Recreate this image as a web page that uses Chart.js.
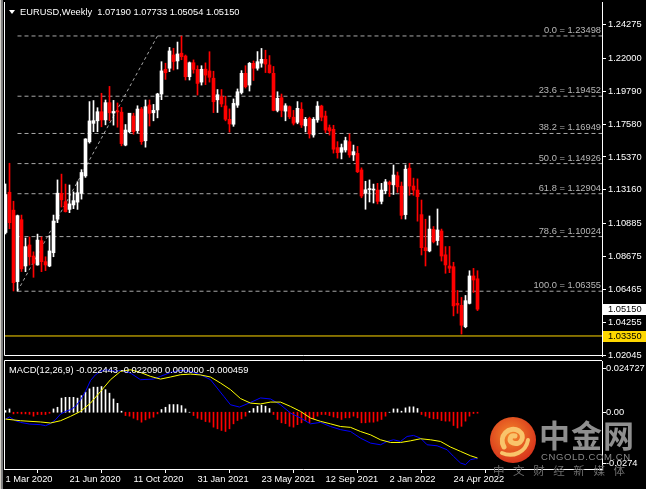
<!DOCTYPE html>
<html>
<head>
<meta charset="utf-8">
<script src="https://cdn.jsdelivr.net/npm/chart.js@4/dist/chart.umd.min.js"></script>
<style>
  html, body { margin: 0; padding: 0; background: #000; }
  body { width: 646px; height: 489px; overflow: hidden; position: relative; font-family: "Liberation Sans", Arial, sans-serif; }
  canvas { position: absolute; left: 0; }
  #main { top: -8px; }
  #macd { top: 352px; }
  .txt { position: absolute; color: #fff; font-size: 9.3px; line-height: 12px; white-space: pre; z-index: 3; }
  #edgeL { position: absolute; left: 0; top: 0; width: 3px; height: 489px; background: linear-gradient(to right, #d4d0c8 0 1px, #808080 1px 3px); z-index: 4; }
  #tri { position: absolute; left: 9px; top: 10px; width: 0; height: 0; border-left: 3px solid transparent; border-right: 3px solid transparent; border-top: 4px solid #fff; z-index: 3; }
  .wm { position: absolute; z-index: 5; white-space: pre; font-family: "Noto Sans CJK SC", sans-serif; }
</style>
</head>
<body>
<div id="edgeL"></div>
<canvas id="main" width="646" height="372"></canvas>
<canvas id="macd" width="646" height="137"></canvas>
<div id="tri"></div>
<div class="txt" style="left:20px; top:6px;">EURUSD,Weekly  1.07190 1.07733 1.05054 1.05150</div>
<div class="txt" style="left:9px; top:364px;">MACD(12,26,9) -0.022443 -0.022090 0.000000 -0.000459</div>

<svg class="wm" style="left:489px; top:416px;" width="48" height="48" viewBox="0 0 48 48">
  <defs>
    <radialGradient id="lg" cx="45%" cy="40%" r="60%">
      <stop offset="0%" stop-color="#f58a2a"/>
      <stop offset="100%" stop-color="#d8341c"/>
    </radialGradient>
  </defs>
  <circle cx="24" cy="24" r="23" fill="url(#lg)"/>
  <path d="M15 31 C9 20 20 9 30 15 C37 20 32 30 24 27 C19 25 21 19 26 20" fill="none" stroke="#f9c46b" stroke-width="5" stroke-linecap="round"/>
  <path d="M13 37 C24 42 37 36 39 24" fill="none" stroke="#f9c46b" stroke-width="4" stroke-linecap="round"/>
</svg>
<div class="wm" style="left:539px; top:411px; font-size:31px; font-weight:bold; color:#8f8f8f; letter-spacing:1px;">中金网</div>
<div class="wm" style="left:541px; top:451px; font-size:9.5px; color:#8a8a8a; font-family:'Liberation Sans',sans-serif; letter-spacing:0.6px;">CNGOLD.COM.CN</div>
<div class="wm" style="left:493px; top:462px; font-size:11.5px; color:#6e6e6e; letter-spacing:3px;">中 文 财 经 新 媒 体</div>

<script>
// weekly bars, index 0 = week of 1 Mar 2020, last = week of 5 Jun 2022
const weekOpen = [
  1.1030, 1.1300, 1.1180, 1.0700, 1.1116, 1.0805, 1.0946, 1.0872, 1.0812, 1.0975,
  1.0834, 1.0805, 1.0894, 1.1119, 1.1293, 1.1237, 1.1185, 1.1215, 1.1234, 1.1293,
  1.1410, 1.1639, 1.1763, 1.1780, 1.1841, 1.1786, 1.1902, 1.1832, 1.1843, 1.1838,
  1.1617, 1.1707, 1.1812, 1.1714, 1.1859, 1.1646, 1.1886, 1.1834, 1.1853, 1.1960,
  1.2126, 1.2133, 1.2222, 1.2182, 1.2234, 1.2215, 1.2076, 1.2170, 1.2125, 1.2040,
  1.2127, 1.2115, 1.2066, 1.1921, 1.1942, 1.1880, 1.1790, 1.1757, 1.1885, 1.1970,
  1.2099, 1.2020, 1.2166, 1.2133, 1.2167, 1.2193, 1.2155, 1.2099, 1.1850, 1.1935,
  1.1845, 1.1875, 1.1804, 1.1770, 1.1858, 1.1746, 1.1797, 1.1685, 1.1786, 1.1879,
  1.1812, 1.1734, 1.1723, 1.1600, 1.1569, 1.1584, 1.1640, 1.1551, 1.1561, 1.1450,
  1.1293, 1.1318, 1.1315, 1.1315, 1.1239, 1.1310, 1.1366, 1.1350, 1.1411, 1.1341,
  1.1150, 1.1462, 1.1342, 1.1315, 1.1150, 1.0928, 1.0906, 1.1051, 1.0976, 1.1040,
  1.0880, 1.0805, 1.0800, 1.0554, 1.0541, 1.0397, 1.0554, 1.0738, 1.07190
];
const weekHigh = [
  1.1356, 1.1495, 1.1240, 1.1147, 1.1147, 1.0993, 1.1000, 1.0900, 1.1019, 1.1000,
  1.0867, 1.1009, 1.1147, 1.1383, 1.1422, 1.1355, 1.1349, 1.1303, 1.1371, 1.1452,
  1.1660, 1.1909, 1.1916, 1.1868, 1.1965, 1.1920, 1.2011, 1.1917, 1.1900, 1.1870,
  1.1755, 1.1830, 1.1831, 1.1881, 1.1870, 1.1920, 1.1920, 1.1890, 1.1965, 1.2177,
  1.2167, 1.2273, 1.2267, 1.2309, 1.2349, 1.2222, 1.2175, 1.2189, 1.2150, 1.2150,
  1.2169, 1.2244, 1.2113, 1.1990, 1.1990, 1.1945, 1.1860, 1.1927, 1.1994, 1.2117,
  1.2150, 1.2172, 1.2182, 1.2245, 1.2266, 1.2254, 1.2218, 1.2145, 1.1975, 1.1960,
  1.1895, 1.1880, 1.1850, 1.1909, 1.1902, 1.1803, 1.1805, 1.1802, 1.1909, 1.1885,
  1.1845, 1.1752, 1.1750, 1.1640, 1.1624, 1.1670, 1.1692, 1.1617, 1.1608, 1.1464,
  1.1374, 1.1383, 1.1355, 1.1360, 1.1360, 1.1386, 1.1376, 1.1483, 1.1436, 1.1369,
  1.1483, 1.1495, 1.1395, 1.1390, 1.1248, 1.1119, 1.1141, 1.1070, 1.1188, 1.1053,
  1.0935, 1.0936, 1.0830, 1.0641, 1.0594, 1.0607, 1.0773, 1.0789, 1.07733
];
const weekLow = [
  1.1020, 1.1055, 1.0637, 1.0636, 1.0768, 1.0767, 1.0811, 1.0729, 1.0810, 1.0767,
  1.0774, 1.0800, 1.0867, 1.1096, 1.1201, 1.1167, 1.1163, 1.1190, 1.1185, 1.1254,
  1.1400, 1.1630, 1.1707, 1.1707, 1.1740, 1.1753, 1.1780, 1.1751, 1.1737, 1.1612,
  1.1612, 1.1700, 1.1690, 1.1700, 1.1622, 1.1603, 1.1745, 1.1780, 1.1800, 1.1922,
  1.2058, 1.2110, 1.2121, 1.2128, 1.2190, 1.2054, 1.2054, 1.2100, 1.1953, 1.2020,
  1.2023, 1.2040, 1.1835, 1.1836, 1.1874, 1.1780, 1.1704, 1.1743, 1.1870, 1.1960,
  1.2000, 1.1980, 1.2051, 1.2120, 1.2140, 1.2104, 1.2100, 1.1847, 1.1840, 1.1807,
  1.1780, 1.1795, 1.1752, 1.1760, 1.1735, 1.1706, 1.1664, 1.1670, 1.1770, 1.1780,
  1.1700, 1.1684, 1.1563, 1.1529, 1.1524, 1.1570, 1.1535, 1.1513, 1.1432, 1.1263,
  1.1186, 1.1235, 1.1228, 1.1222, 1.1222, 1.1290, 1.1272, 1.1285, 1.1300, 1.1121,
  1.1120, 1.1280, 1.1280, 1.1106, 1.0879, 1.0805, 1.0900, 1.0960, 1.0945, 1.0838,
  1.0756, 1.0760, 1.0470, 1.0487, 1.0348, 1.0390, 1.0550, 1.0627, 1.05054
];
const weekClose = [
  1.1285, 1.1096, 1.0693, 1.1143, 1.0786, 1.0935, 1.0867, 1.0823, 1.0979, 1.0834,
  1.0812, 1.0906, 1.1107, 1.1294, 1.1249, 1.1170, 1.1222, 1.1244, 1.1297, 1.1433,
  1.1658, 1.1779, 1.1781, 1.1841, 1.1786, 1.1902, 1.1834, 1.1843, 1.1840, 1.1627,
  1.1718, 1.1831, 1.1707, 1.1859, 1.1640, 1.1875, 1.1830, 1.1850, 1.1960, 1.2115,
  1.2103, 1.2249, 1.2178, 1.2229, 1.2211, 1.2076, 1.2170, 1.2125, 1.2031, 1.2126,
  1.2087, 1.2072, 1.1908, 1.1955, 1.1893, 1.1790, 1.1759, 1.1897, 1.1975, 1.2099,
  1.2009, 1.2166, 1.2133, 1.2177, 1.2193, 1.2161, 1.2103, 1.1850, 1.1931, 1.1850,
  1.1881, 1.1807, 1.1764, 1.1864, 1.1752, 1.1790, 1.1692, 1.1790, 1.1879, 1.1804,
  1.1718, 1.1712, 1.1589, 1.1566, 1.1600, 1.1647, 1.1551, 1.1573, 1.1438, 1.1275,
  1.1317, 1.1320, 1.1317, 1.1239, 1.1315, 1.1370, 1.1353, 1.1416, 1.1337, 1.1145,
  1.1455, 1.1342, 1.1315, 1.1271, 1.0928, 1.0908, 1.1053, 1.0968, 1.1047, 1.0872,
  1.0812, 1.0790, 1.0537, 1.0543, 1.0407, 1.0572, 1.0738, 1.0711, 1.05150
];

const priceTicks = [1.24275, 1.22000, 1.19790, 1.17580, 1.15370, 1.13160, 1.10885, 1.08675, 1.06465, 1.04255, 1.02045];
const fibLevels = [0.0, 23.6, 38.2, 50.0, 61.8, 78.6, 100.0];
const fibPrices = [1.23498, 1.19452, 1.16949, 1.14926, 1.12904, 1.10024, 1.06355];
const fibWeeks = [3, 38];           // anchor weeks of the fibo object (low, high)
const bidPrice = 1.05150;
const alertPrice = 1.03350;

const dateTickWeeks = [0, 16, 32, 48, 64, 80, 96, 112];
const dateTickLabels = ['1 Mar 2020', '21 Jun 2020', '11 Oct 2020', '31 Jan 2021', '23 May 2021', '12 Sep 2021', '2 Jan 2022', '24 Apr 2022'];

// MACD(12,26,9)
const macdWeeks = [0, 1, 2.5, 3.75, 6, 8.75, 10, 11.25, 12.5, 13.75, 15, 16.25, 17.5, 18.75, 20, 21.25, 22.5, 23.75, 25, 26.25,
  27.5, 28.75, 31.25, 33.75, 37, 38.75, 41.25, 43.75, 46.25, 48.75, 51.25, 52.9, 54.6, 56.25, 58.5, 61.25, 63.75, 66.25, 68.75, 71.25,
  73.75, 76.25, 78.75, 81.25, 83.75, 86.25, 88.75, 91.25, 93.75, 95.4, 97, 98.75, 100.4, 102, 103.75, 105.4, 107.9, 110.4, 112, 113.75,
  115, 116.25, 117.5, 118];
const macdMain = [-0.0033, -0.0023, -0.0041, -0.0049, -0.0057, -0.0060, -0.0065, -0.0055, -0.0036, -0.0009, 0.0004, 0.0012, 0.0028, 0.0060, 0.0100, 0.0153, 0.0181, 0.0197, 0.0205, 0.0202,
  0.0197, 0.0202, 0.0189, 0.0157, 0.0160, 0.0173, 0.0192, 0.0202, 0.0197, 0.0181, 0.0157, 0.0117, 0.0076, 0.0036, 0.0025, 0.0047, 0.0069, 0.0064, 0.0036, -0.0004,
  -0.0028, -0.0056, -0.0049, -0.0069, -0.0084, -0.0093, -0.0125, -0.0149, -0.0157, -0.0141, -0.0133, -0.0141, -0.0117, -0.0112, -0.0125, -0.0157, -0.0162, -0.0181, -0.0213, -0.0245,
  -0.0253, -0.0229, -0.0224, -0.022443];
const signalWeeks = [0, 3.75, 8.75, 11.25, 13.75, 16.25, 18.75, 21.25, 23.75, 26.25, 28.75, 31.25, 33.75, 36.25, 38.75, 41.25, 43.75, 46.25, 48.75, 51.25,
  53.75, 56.25, 58.75, 61.25, 63.75, 66.25, 68.75, 71.25, 73.75, 76.25, 78.75, 81.25, 83.75, 86.25, 88.75, 91.25, 93.75, 96.25, 98.75, 101.25,
  103.75, 106.25, 108.75, 111.25, 113.75, 116.25, 118];
const macdSignal = [-0.0033, -0.0041, -0.0047, -0.0052, -0.0041, -0.0020, 0.0004, 0.0044, 0.0100, 0.0157, 0.0197, 0.0205, 0.0192, 0.0173, 0.0160, 0.0170, 0.0181, 0.0184, 0.0180, 0.0170,
  0.0141, 0.0109, 0.0066, 0.0044, 0.0040, 0.0049, 0.0049, 0.0028, 0.0004, -0.0028, -0.0044, -0.0056, -0.0069, -0.0073, -0.0093, -0.0109, -0.0133, -0.0146, -0.0146, -0.0138,
  -0.0128, -0.0133, -0.0141, -0.0168, -0.0189, -0.0210, -0.022090];
const macdHist = [
  0.0008, 0.0016, -0.0008, -0.0005, -0.0008, -0.0008, -0.0010, -0.0019, -0.0011, -0.0011,
  -0.0011, -0.0005, 0.0016, 0.0024, 0.0068, 0.0072, 0.0072, 0.0072, 0.0068, 0.0080,
  0.0097, 0.0113, 0.0121, 0.0121, 0.0124, 0.0109, 0.0092, 0.0064, 0.0043, 0.0005,
  -0.0016, -0.0019, -0.0029, -0.0037, -0.0048, -0.0037, -0.0029, -0.0024, -0.0008, 0.0013,
  0.0024, 0.0037, 0.0037, 0.0037, 0.0032, 0.0016, 0.0000, -0.0016, -0.0029, -0.0035,
  -0.0045, -0.0048, -0.0072, -0.0080, -0.0088, -0.0093, -0.0080, -0.0056, -0.0040, -0.0032,
  -0.0019, 0.0005, 0.0018, 0.0029, 0.0034, 0.0029, 0.0018, -0.0011, -0.0035, -0.0051,
  -0.0055, -0.0068, -0.0072, -0.0060, -0.0051, -0.0040, -0.0051, -0.0032, -0.0019, -0.0011,
  -0.0011, -0.0016, -0.0023, -0.0027, -0.0035, -0.0027, -0.0027, -0.0019, -0.0027, -0.0051,
  -0.0051, -0.0048, -0.0048, -0.0043, -0.0035, -0.0019, 0.0000, 0.0016, 0.0016, 0.0005,
  0.0021, 0.0026, 0.0026, 0.0018, -0.0011, -0.0019, -0.0027, -0.0032, -0.0032, -0.0040,
  -0.0043, -0.0043, -0.0064, -0.0076, -0.0068, -0.0043, -0.0019, -0.0006, -0.000459
];
const macdAxisLabels = ['0.024727', '0.00', '-0.0274'];
const macdAxisValues = [0.024727, 0, -0.0274];

// layout of the two panels (4 px per week)
const X_MIN = -0.375, X_MAX = 149.125;
const Y_MIN = 1.02005, Y_MAX = 1.25779;
const FONT = { family: '"Liberation Sans", Arial, sans-serif', size: 9.3 };
const UP = '#ffffff', DOWN = '#ff0000', GOLD = '#ffd700', FIBO = '#a8a8a8';

const weeks = weekOpen.map((_, i) => i);
const candleColors = weeks.map(i => weekClose[i] >= weekOpen[i] ? UP : DOWN);

const mainDecor = {
    id: 'mainDecor',
    afterDraw(chart) {
        const { ctx, chartArea: a, scales: { y } } = chart;
        ctx.save();
        // frame
        ctx.strokeStyle = '#fff';
        ctx.lineWidth = 1;
        ctx.beginPath();
        ctx.moveTo(a.left + 0.5, a.top);
        ctx.lineTo(a.left + 0.5, a.bottom - 0.5);
        ctx.lineTo(a.right, a.bottom - 0.5);
        ctx.stroke();
        // fibo level texts
        ctx.font = `${FONT.size}px ${FONT.family}`;
        ctx.fillStyle = '#b8b8b8';
        ctx.textAlign = 'right';
        ctx.textBaseline = 'bottom';
        fibLevels.forEach((lv, k) => {
            ctx.fillText(`${lv.toFixed(1)} = ${fibPrices[k].toFixed(5)}`, a.right - 1, Math.round(y.getPixelForValue(fibPrices[k])) - 1);
        });
        // price boxes on the axis
        ctx.textAlign = 'left';
        ctx.textBaseline = 'middle';
        [[bidPrice, '#ffffff'], [alertPrice, GOLD]].forEach(([p, col]) => {
            const py = Math.round(y.getPixelForValue(p));
            ctx.fillStyle = col;
            ctx.fillRect(a.right + 1, py - 5, 43, 11);
            ctx.fillStyle = '#000';
            ctx.fillText(p.toFixed(5), a.right + 6, py + 0.5);
        });
        ctx.restore();
    }
};

const macdDecor = {
    id: 'macdDecor',
    afterDraw(chart) {
        const { ctx, chartArea: a, scales: { y } } = chart;
        ctx.save();
        ctx.strokeStyle = '#fff';
        ctx.lineWidth = 1;
        ctx.beginPath();
        ctx.moveTo(a.right, a.top - 0.5);
        ctx.lineTo(a.left + 0.5, a.top - 0.5);
        ctx.lineTo(a.left + 0.5, a.bottom);
        ctx.stroke();
        ctx.font = `${FONT.size}px ${FONT.family}`;
        ctx.fillStyle = '#fff';
        ctx.textAlign = 'left';
        ctx.textBaseline = 'middle';
        macdAxisValues.forEach((v, k) => {
            let py = Math.round(y.getPixelForValue(v));
            if (k === 0) py = a.top + 7;
            if (k === macdAxisValues.length - 1) py = a.bottom - 6;
            ctx.fillRect(a.right, py, 4, 1);
            ctx.fillText(macdAxisLabels[k], a.right + 4, py + 0.5);
        });
        ctx.restore();
    }
};

const hline = (p, color, dash, from) => ({
    type: 'line', data: [{ x: from, y: p }, { x: X_MAX, y: p }],
    borderColor: color, borderWidth: 1, borderDash: dash, pointRadius: 0, order: 3
});

new Chart(document.getElementById('main'), {
    type: 'bar',
    data: {
        datasets: [
            { label: 'body', data: weeks.map(i => ({ x: i, y: [weekOpen[i], weekClose[i]] })),
              backgroundColor: candleColors, barThickness: 3, minBarLength: 1, grouped: false, order: 0 },
            { label: 'wick', data: weeks.map(i => ({ x: i, y: [weekLow[i], weekHigh[i]] })),
              backgroundColor: candleColors, barThickness: 1, grouped: false, order: 1 },
            Object.assign(hline(alertPrice, GOLD, [], X_MIN), { order: 2 }),
            ...fibPrices.map(p => hline(p, FIBO, [4, 3], fibWeeks[0])),
            { type: 'line', data: [{ x: fibWeeks[0], y: fibPrices[fibPrices.length - 1] }, { x: fibWeeks[1], y: fibPrices[0] }],
              borderColor: FIBO, borderWidth: 1, borderDash: [3, 3], pointRadius: 0, order: 3 }
        ]
    },
    options: {
        responsive: false, animation: false, events: [],
        layout: { padding: { left: 4, top: 10, bottom: 8, right: 0 } },
        plugins: { legend: { display: false }, tooltip: { enabled: false } },
        scales: {
            x: { type: 'linear', min: X_MIN, max: X_MAX, offset: false, display: false },
            y: {
                position: 'right', min: Y_MIN, max: Y_MAX,
                afterFit(s) { s.width = 44; },
                afterBuildTicks(s) { s.ticks = priceTicks.map(v => ({ value: v })); },
                ticks: { color: '#fff', font: FONT, padding: 2, autoSkip: false, callback: v => v.toFixed(5) },
                grid: { drawOnChartArea: false, drawTicks: true, tickLength: 4, color: '#fff' },
                border: { color: '#fff' }
            }
        }
    },
    plugins: [mainDecor]
});

new Chart(document.getElementById('macd'), {
    type: 'bar',
    data: {
        datasets: [
            { type: 'line', label: 'signal', data: signalWeeks.map((x, k) => ({ x, y: macdSignal[k] })),
              borderColor: '#ffff00', borderWidth: 1, pointRadius: 0, tension: 0, order: 0 },
            { type: 'line', label: 'macd', data: macdWeeks.map((x, k) => ({ x, y: macdMain[k] })),
              borderColor: '#0000ff', borderWidth: 1, pointRadius: 0, tension: 0, order: 1 },
            { label: 'hist', data: macdHist.map((v, i) => ({ x: i, y: v })),
              backgroundColor: macdHist.map(v => v >= 0 ? UP : DOWN), barThickness: 1, grouped: false, order: 2 }
        ]
    },
    options: {
        responsive: false, animation: false, events: [],
        layout: { padding: { left: 4, top: 9, bottom: 0, right: 0 } },
        plugins: { legend: { display: false }, tooltip: { enabled: false } },
        scales: {
            x: {
                type: 'linear', min: X_MIN, max: X_MAX, offset: false,
                afterFit(s) { s.height = 20; },
                afterBuildTicks(s) { s.ticks = dateTickWeeks.map(v => ({ value: v })); },
                ticks: { color: '#fff', font: FONT, align: 'start', maxRotation: 0, autoSkip: false, padding: 1,
                         callback: v => dateTickLabels[dateTickWeeks.indexOf(v)] },
                grid: { drawOnChartArea: false, drawTicks: true, tickLength: 4, color: '#fff' },
                border: { color: '#fff' }
            },
            y: {
                position: 'right', min: -0.0274, max: 0.024727,
                afterFit(s) { s.width = 44; },
                ticks: { display: false },
                grid: { display: false },
                border: { color: '#fff' }
            }
        }
    },
    plugins: [macdDecor]
});
</script>
</body>
</html>
